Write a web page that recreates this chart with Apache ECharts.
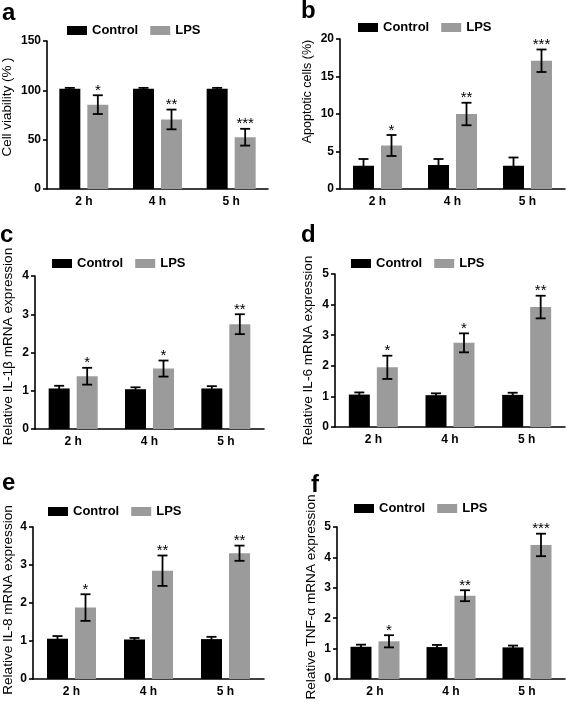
<!DOCTYPE html>
<html>
<head>
<meta charset="utf-8">
<script src="https://cdn.jsdelivr.net/npm/echarts@6/dist/echarts.min.js"></script>
<style>
html,body{margin:0;padding:0;background:#fff;}
#chart{width:567px;height:702px;}
</style>
</head>
<body>
<div id="chart"></div>
<script>
// ---------------- data ----------------
const categories = ['2 h', '4 h', '5 h'];
const seriesNames = ['Control', 'LPS'];

const aControl = [101.5, 101.5, 101.5];
const aControlErr = [1, 1, 1];
const aLPS = [85.5, 70.5, 52.5];
const aLPSErr = [9.5, 10, 8.5];
const aSig = ['*', '**', '***'];

const bControl = [3.1, 3.2, 3.1];
const bControlErr = [0.9, 0.8, 1.1];
const bLPS = [5.8, 10.0, 17.1];
const bLPSErr = [1.4, 1.5, 1.5];
const bSig = ['*', '**', '***'];

const cControl = [1.06, 1.04, 1.06];
const cControlErr = [0.07, 0.05, 0.06];
const cLPS = [1.38, 1.58, 2.74];
const cLPSErr = [0.22, 0.21, 0.26];
const cSig = ['*', '*', '**'];

const dControl = [1.06, 1.04, 1.05];
const dControlErr = [0.07, 0.06, 0.07];
const dLPS = [1.95, 2.75, 3.92];
const dLPSErr = [0.38, 0.31, 0.37];
const dSig = ['*', '*', '**'];

const eControl = [1.06, 1.04, 1.05];
const eControlErr = [0.07, 0.04, 0.06];
const eLPS = [1.88, 2.85, 3.31];
const eLPSErr = [0.35, 0.40, 0.20];
const eSig = ['*', '**', '**'];

const fControl = [1.06, 1.05, 1.04];
const fControlErr = [0.07, 0.07, 0.06];
const fLPS = [1.24, 2.74, 4.41];
const fLPSErr = [0.20, 0.18, 0.37];
const fSig = ['*', '**', '***'];

const yTitles = ['Cell viability (% )', 'Apoptotic cells (%)', 'Relative IL-1β mRNA expression',
  'Relative IL-6 mRNA expression', 'Relative IL-8 mRNA expression', 'Relative TNF-α mRNA expression'];
const yMax = [150, 20, 4, 5, 4, 5];
const yInterval = [50, 5, 1, 1, 1, 1];
const panelLetters = ['a', 'b', 'c', 'd', 'e', 'f'];

// ---------------- layout / style ----------------
const BAR_W = 21;
const BAR_GAP_PX = 7;
const COLORS = ['#000000', '#9b9b9b'];
const FONT = 'Liberation Sans, Arial, Helvetica, sans-serif';

const panels = [
  {ctl: aControl, ctlErr: aControlErr, lps: aLPS, lpsErr: aLPSErr, sig: aSig,
   grid: {left: 47, top: 41, width: 221, height: 148}, nameGap: 33, nameSize: 13.4, nameShift: 16,
   legend: {left: 67, cy: 31}, letter: {x: 2, y: 20}},
  {ctl: bControl, ctlErr: bControlErr, lps: bLPS, lpsErr: bLPSErr, sig: bSig,
   grid: {left: 340, top: 39, width: 225, height: 150}, nameGap: 26, nameSize: 12.5, nameShift: 45,
   legend: {left: 358, cy: 28}, letter: {x: 301, y: 18}},
  {ctl: cControl, ctlErr: cControlErr, lps: cLPS, lpsErr: cLPSErr, sig: cSig,
   grid: {left: 33, top: 276, width: 231, height: 153}, nameGap: 20, nameSize: 13.6, nameShift: 12,
   legend: {left: 52, cy: 264}, letter: {x: 0, y: 242}},
  {ctl: dControl, ctlErr: dControlErr, lps: dLPS, lpsErr: dLPSErr, sig: dSig,
   grid: {left: 335, top: 274, width: 230, height: 153}, nameGap: 20, nameSize: 13.6, nameShift: 0,
   legend: {left: 351, cy: 264}, letter: {x: 301, y: 242}},
  {ctl: eControl, ctlErr: eControlErr, lps: eLPS, lpsErr: eLPSErr, sig: eSig,
   grid: {left: 32, top: 527, width: 232, height: 152}, nameGap: 18, nameSize: 13.6, nameShift: 6,
   legend: {left: 48, cy: 512}, letter: {x: 2, y: 490}},
  {ctl: fControl, ctlErr: fControlErr, lps: fLPS, lpsErr: fLPSErr, sig: fSig,
   grid: {left: 337, top: 527, width: 228, height: 152}, nameGap: 19, nameSize: 13.6, nameShift: 12,
   legend: {left: 354, cy: 509}, letter: {x: 311, y: 492}}
];

function errRender(params, api) {
  const cat = api.value(0), mean = api.value(1), err = api.value(2), side = api.value(3);
  const stars = api.value(4);
  const off = side * (BAR_W + BAR_GAP_PX) / 2;
  const pTop = api.coord([cat, mean + err]);
  const pBot = api.coord([cat, mean - err]);
  const x = pTop[0] + off;
  const cap = 5;
  const st = {stroke: '#000', lineWidth: 1.8};
  const children = [
    {type: 'line', shape: {x1: x, y1: pTop[1], x2: x, y2: pBot[1]}, style: st},
    {type: 'line', shape: {x1: x - cap, y1: pTop[1], x2: x + cap, y2: pTop[1]}, style: st},
    {type: 'line', shape: {x1: x - cap, y1: pBot[1], x2: x + cap, y2: pBot[1]}, style: st}
  ];
  if (stars && stars !== '-') {
    children.push({type: 'text', style: {text: stars, x: x, y: pTop[1] + 3, align: 'center',
      verticalAlign: 'bottom', fontSize: 15, fontFamily: FONT, fill: '#000'}});
  }
  return {type: 'group', children: children};
}

const grid = [], xAxis = [], yAxis = [], series = [], legend = [], graphic = [];
panels.forEach((p, i) => {
  grid.push(Object.assign({containLabel: false}, p.grid));
  xAxis.push({type: 'category', gridIndex: i, data: categories,
    axisLine: {lineStyle: {color: '#000', width: 1.6}},
    axisTick: {alignWithLabel: true, length: 4, lineStyle: {color: '#000', width: 1.6}},
    axisLabel: {color: '#000', fontWeight: 'bold', fontSize: 12, fontFamily: FONT, margin: 7}});
  yAxis.push({type: 'value', gridIndex: i, min: 0, max: yMax[i], interval: yInterval[i],
    name: yTitles[i], nameLocation: 'middle', nameGap: p.nameGap,
    nameTextStyle: {color: '#000', fontSize: p.nameSize, fontFamily: FONT,
      padding: [0, 0, 0, p.nameShift]},
    splitLine: {show: false},
    axisLine: {show: true, lineStyle: {color: '#000', width: 1.6}},
    axisTick: {show: true, length: 4, lineStyle: {color: '#000', width: 1.6}},
    axisLabel: {color: '#000', fontWeight: 'bold', fontSize: 12, fontFamily: FONT, margin: 6}});
  series.push({type: 'bar', name: seriesNames[0], xAxisIndex: i, yAxisIndex: i, data: p.ctl,
    barWidth: BAR_W, barGap: (BAR_GAP_PX / BAR_W * 100) + '%', itemStyle: {color: COLORS[0]}, z: 2});
  series.push({type: 'bar', name: seriesNames[1], xAxisIndex: i, yAxisIndex: i, data: p.lps,
    barWidth: BAR_W, barGap: (BAR_GAP_PX / BAR_W * 100) + '%', itemStyle: {color: COLORS[1]}, z: 2});
  const errData = [];
  p.ctl.forEach((v, k) => errData.push([k, v, p.ctlErr[k], -1, '-']));
  p.lps.forEach((v, k) => errData.push([k, v, p.lpsErr[k], 1, p.sig[k]]));
  series.push({type: 'custom', xAxisIndex: i, yAxisIndex: i, data: errData, renderItem: errRender,
    z: 5, silent: true, encode: {x: 0, y: [1]}});
  legend.push({left: p.legend.left, top: p.legend.cy - 7, padding: 0, itemWidth: 20, itemHeight: 9,
    itemGap: 12, icon: 'rect', selectedMode: false, data: seriesNames,
    textStyle: {color: '#000', fontWeight: 'bold', fontSize: 13, fontFamily: FONT, padding: [0, 0, 0, 0]}});
  graphic.push({type: 'text', left: p.letter.x, top: p.letter.y - 19,
    style: {text: panelLetters[i], fontSize: 24, fontWeight: 'bold', fontFamily: FONT, fill: '#000'}});
});

const chart = echarts.init(document.getElementById('chart'), null, {renderer: 'canvas'});
chart.setOption({animation: false, backgroundColor: '#fff', grid, xAxis, yAxis, series, legend, graphic});
</script>
</body>
</html>
